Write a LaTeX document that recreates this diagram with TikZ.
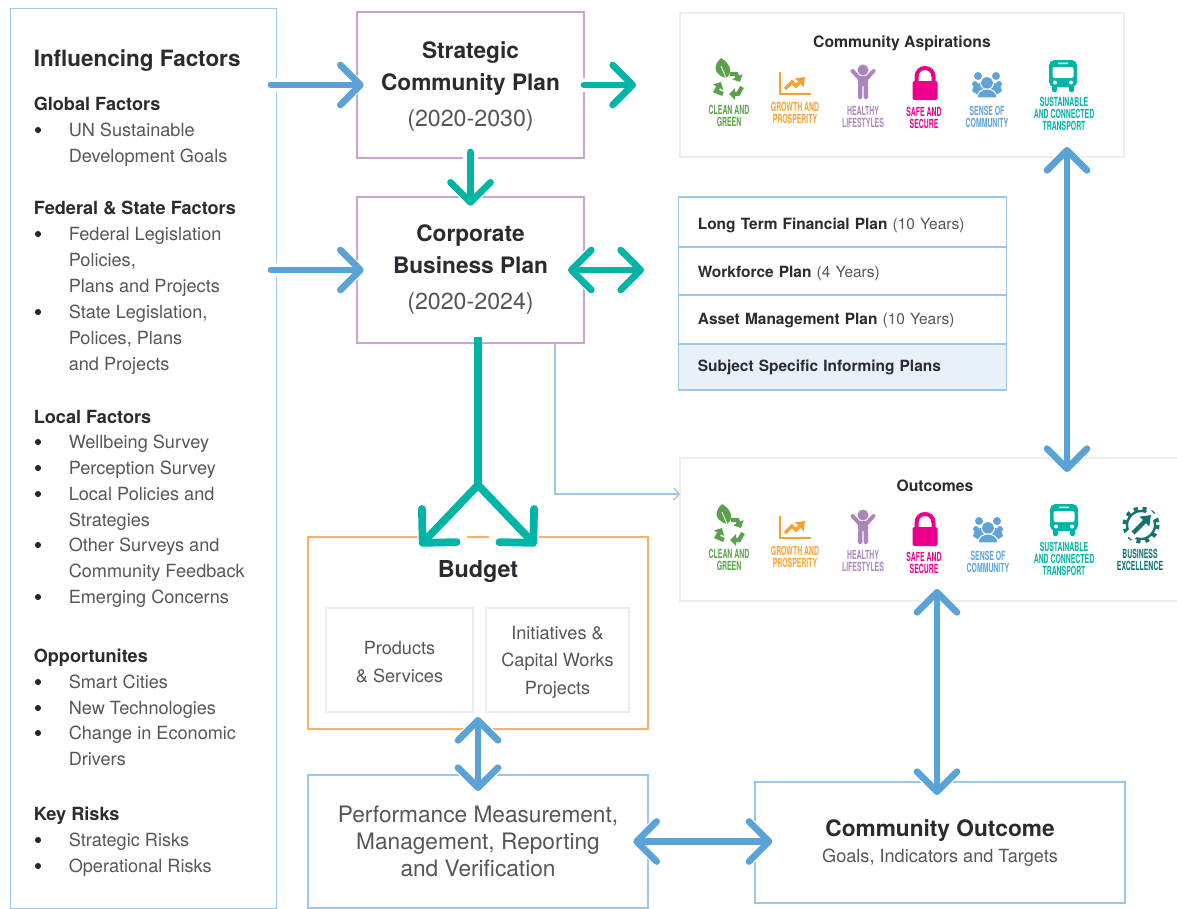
\documentclass[tikz,border=0pt]{standalone}
\usepackage{fontspec}
\setmainfont{TeX Gyre Heros}
\usetikzlibrary{arrows.meta}
\definecolor{linkblue}{HTML}{5BA2D6}
\definecolor{linkteal}{HTML}{00B4A6}
\definecolor{paleblue}{HTML}{9CC7E8}
\definecolor{palepurple}{HTML}{C8A4D4}
\definecolor{paleorange}{HTML}{F9B264}
\definecolor{palegrey}{HTML}{EDEDED}
\definecolor{softfill}{HTML}{E8F0F9}
\definecolor{inkdark}{HTML}{2A2A30}
\definecolor{inkbody}{HTML}{55555B}
\definecolor{markgreen}{HTML}{5CA04C}
\definecolor{markorange}{HTML}{F9A030}
\definecolor{markpurple}{HTML}{AE84BC}
\definecolor{markpink}{HTML}{EC008C}
\definecolor{markblue}{HTML}{5FA3D8}
\definecolor{markdeep}{HTML}{17716F}
\tikzset{
	framed/.style={draw=#1,line width=.9pt,outer sep=0pt,inner sep=0pt,align=center},
	planbox/.style={framed=palepurple,minimum width=170.25pt,minimum height=109.5pt,text=inkdark,font=\fontsize{17}{24}\selectfont},
	heading/.style={anchor=base west,inner sep=0pt,text=inkdark,font=\fontsize{13.6}{16}\selectfont\bfseries},
	entry/.style={anchor=base west,inner sep=0pt,text=inkbody,font=\fontsize{13.6}{16}\selectfont},
	dotmark/.style={circle,fill=black!85,inner sep=0pt,minimum size=4.6pt},
	planrow/.style={framed=paleblue,minimum width=245.5pt,text width=217pt,text depth=2.7pt,align=left,text=inkdark,font=\fontsize{11.6}{14}\selectfont},
	inner/.style={framed=palegrey,line width=1.2pt,minimum height=78pt,text=inkbody,font=\fontsize{13.6}{20.5}\selectfont},
	marktext/.style={text=#1,inner sep=0pt,align=center,xscale=.55,transform shape,font=\fontsize{9.4}{8.7}\selectfont\bfseries},
	bluelink/.style={linkblue,line width=5pt,line cap=round,preaction={draw=white,line width=11pt,line cap=round}},
	teallink/.style={linkteal,line width=5pt,line cap=round,preaction={draw=white,line width=11pt,line cap=round}},
	forklink/.style={linkteal,line width=5.8pt,line cap=round,preaction={draw=white,line width=12pt,line cap=round,shorten <=14pt}},
	barb/.tip={Straight Barb[round,length=15pt,width=30pt]},
	widebarb/.tip={Straight Barb[round,length=18pt,width=36pt]},
	leafmark/.pic={
		\fill[markgreen] (-2,0) .. controls (-16,-4) and (-14,-14) .. (-7,-20) .. controls (3,-14) and (5,-5) .. (-2,0);
		\draw[white,line width=.6pt] (-2,0) -- (-7,-12);
		\draw[markgreen,line width=3.2pt,-{Triangle[length=4.5pt,width=8.5pt]}] (2,-4) -- (8,-4) -- (12,4);
		\draw[markgreen,line width=3.2pt,-{Triangle[length=4.5pt,width=8.5pt]}] (14,9) -- (10,16) -- (1,16);
		\draw[markgreen,line width=3.2pt,-{Triangle[length=4.5pt,width=8.5pt]}] (-5,16) -- (-12,13) -- (-7,4);
	},
	chartmark/.pic={
		\draw[markorange,line width=1.3pt] (-15,-11) -- (-15,11) -- (16,11);
		\draw[markorange,line width=2.6pt,-{Triangle[length=6pt,width=9pt]}] (-10,6) -- (-3,-1) -- (1,3) -- (10,-6);
	},
	personmark/.pic={
		\fill[markpurple] (0,-12) circle (5.5);
		\draw[markpurple,line width=3pt,line cap=round] (-10.5,-11) -- (-4,-4) -- (4,-4) -- (10.5,-11);
		\fill[markpurple,rounded corners=1pt] (-5,-5) rectangle (5,4);
		\fill[markpurple,rounded corners=1pt] (-5,3) rectangle (-.7,17);
		\fill[markpurple,rounded corners=1pt] (.7,3) rectangle (5,17);
	},
	lockmark/.pic={
		\fill[markpink,rounded corners=1.5pt] (-12.5,-3) rectangle (12.5,16);
		\draw[markpink,line width=3pt] (-8.5,-2) -- (-8.5,-7) .. controls (-8.5,-19) and (8.5,-19) .. (8.5,-7) -- (8.5,-2);
	},
	crowdmark/.pic={
		\fill[markblue] (-9,-9) circle (4) (9,-9) circle (4) (-12,-1) circle (3) (12,-1) circle (3);
		\fill[markblue] (-15,6) .. controls (-15,-6) and (15,-6) .. (15,6) -- (9,10) -- (-9,10) -- cycle;
		\draw[white,line width=.8pt,fill=markblue] (0,-2) circle (6.5);
		\draw[white,line width=.8pt,fill=markblue] (-10,13) .. controls (-10,1) and (10,1) .. (10,13) -- cycle;
	},
	busmark/.pic={
		\fill[linkteal,rounded corners=4pt] (-14,-16) rectangle (14,11);
		\fill[linkteal,rounded corners=1pt] (-11,9) rectangle (-6,16);
		\fill[linkteal,rounded corners=1pt] (6,9) rectangle (11,16);
		\fill[white,rounded corners=1.5pt] (-10.5,-9) rectangle (10.5,2);
		\fill[white] (-5,-13.5) rectangle (5,-12) (-8,6.5) circle (2) (8,6.5) circle (2);
	},
	gearmark/.pic={
		\draw[markdeep,line width=1.8pt] (0,0) circle (14);
		\draw[markdeep,line width=3pt,dash pattern=on 3pt off 3.6pt] (0,0) circle (16.5);
		\draw[white,line width=8pt] (-12,12) -- (12,-12);
		\draw[markdeep,line width=3.2pt,-{Triangle[length=7pt,width=10pt]}] (-8,8) -- (10,-10);
	},
}

\begin{document}
\begin{tikzpicture}[x=.75pt,y=-.75pt]
	\useasboundingbox (0,0) rectangle (1177,908);
	% boxes
	\node[framed=paleblue,minimum width=200pt,minimum height=674.5pt] at (143.5,458.5) (factors) {};
	\node[planbox] at (470.5,85) (strategic)
		{\rule{0pt}{14.5pt}\textbf{Strategic}\\\textbf{Community Plan}\\[3pt]{\fontsize{17.4}{20}\selectfont\color{inkbody}(2020-2030)}};
	\node[planbox] at (470.5,270) (corporate)
		{\textbf{Corporate}\\\textbf{Business Plan}\\[3pt]{\fontsize{17.4}{20}\selectfont\color{inkbody}(2020-2024)}};
	\node[framed=palegrey,line width=1.4pt,minimum width=333pt,minimum height=108pt] at (902,85) (aspirations) {};
	\node[framed=palegrey,line width=1.4pt,minimum width=375pt,minimum height=107pt] at (930,529.5) (outcomes) {};
	\node[planrow,text height=14pt,minimum height=37.5pt] at (842.5,222) (financial)
		{\textbf{Long Term Financial Plan} {\color{inkbody}(10 Years)}};
	\node[planrow,text height=12.5pt,minimum height=36pt] at (842.5,271) (workforce)
		{\textbf{Workforce Plan} {\color{inkbody}(4 Years)}};
	\node[planrow,text height=10.2pt,minimum height=36.75pt] at (842.5,319.5) (asset)
		{\textbf{Asset Management Plan} {\color{inkbody}(10 Years)}};
	\node[planrow,text height=9.5pt,fill=softfill,minimum height=34.5pt] at (842.5,367) (subject)
		{\textbf{Subject Specific Informing Plans}};
	\node[framed=paleorange,minimum width=255pt,minimum height=144pt] at (478,633) (budget) {};
	\node[inner,minimum width=110pt] at (399.5,660) (products) {\rule{0pt}{13pt}Products\\\& Services};
	\node[inner,minimum width=107pt] at (557.5,660) (initiatives) {\rule{0pt}{13pt}Initiatives \&\\Capital Works\\Projects};
	\node[framed=paleblue,minimum width=255pt,minimum height=99.75pt,text=inkbody,font=\fontsize{17}{20}\selectfont] at (478,841.5) (performance) {Performance Measurement,\\Management, Reporting\\and Verification};
	\node[framed=paleblue,minimum width=277.5pt,minimum height=90.75pt] at (940,842.5) (community) {};
	% headings and lists
	\node[heading,font=\fontsize{16.85}{20}\selectfont\bfseries] at (33.5,66) (influencing) {Influencing Factors};
	\node[heading] at (33.5,110) (globalhead) {Global Factors};
	\node[heading] at (33.5,214) (federalhead) {Federal \& State Factors};
	\node[heading] at (33.5,423) (localhead) {Local Factors};
	\node[heading] at (33.5,662) (opportunehead) {Opportunites};
	\node[heading] at (33.5,820) (riskhead) {Key Risks};
	\foreach \yy/\txt [count=\nn] in {136/UN Sustainable,162/Development Goals,240/Federal Legislation,266/{Policies,},292/Plans and Projects,318/{State Legislation,},344/{Polices, Plans},370/and Projects,448/Wellbeing Survey,474/Perception Survey,500/Local Policies and,526/Strategies,551/Other Surveys and,577/Community Feedback,603/Emerging Concerns,688/Smart Cities,714/New Technologies,739/Change in Economic,765/Drivers,846/Strategic Risks,872/Operational Risks}
		\node[entry] at (68.5,\yy) (item\nn) {\txt};
	\foreach \yy [count=\nn] in {130,234,312,442,468,494,545,597,682,708,733,840,866}
		\node[dotmark] at (38,\yy) (dot\nn) {};
	% titles
	\node[text=inkdark,inner sep=0pt,font=\fontsize{11.8}{14}\selectfont\bfseries] at (902,43) (aspirationstitle) {Community Aspirations};
	\node[text=inkdark,inner sep=0pt,font=\fontsize{11.8}{14}\selectfont\bfseries] at (935,486) (outcomestitle) {Outcomes};
	\node[text=inkdark,inner sep=0pt,font=\fontsize{17.5}{20}\selectfont\bfseries] at (478,572) (budgettitle) {Budget};
	\node[text=inkdark,inner sep=0pt,font=\fontsize{17}{20}\selectfont\bfseries] at (940,831) (communitytitle) {Community Outcome};
	\node[text=inkbody,inner sep=0pt,font=\fontsize{13.6}{16}\selectfont] at (940,858) (communitytext) {Goals, Indicators and Targets};
	% upper marks
	\pic at (728,78) {leafmark};
	\pic at (795,83) {chartmark};
	\pic at (863,82) {personmark};
	\pic at (925,84) {lockmark};
	\pic at (987,85) {crowdmark};
	\pic at (1063,76) {busmark};
	\node[marktext=markgreen] at (729,116) (cleantop) {CLEAN AND\\GREEN};
	\node[marktext=markorange] at (795,113) (growthtop) {GROWTH AND\\PROSPERITY};
	\node[marktext=markpurple] at (863,117) (healthytop) {HEALTHY\\LIFESTYLES};
	\node[marktext=markpink] at (924,118) (safetop) {SAFE AND\\SECURE};
	\node[marktext=markblue] at (987,117) (sensetop) {SENSE OF\\COMMUNITY};
	\node[marktext=linkteal] at (1064,114) (transporttop) {SUSTAINABLE\\AND CONNECTED\\TRANSPORT};
	% lower marks
	\pic at (729,524) {leafmark};
	\pic at (795,527) {chartmark};
	\pic at (863,527) {personmark};
	\pic at (925,530) {lockmark};
	\pic at (988,530) {crowdmark};
	\pic at (1064,520) {busmark};
	\pic at (1141,525) {gearmark};
	\node[marktext=markgreen] at (729,560) (cleanlow) {CLEAN AND\\GREEN};
	\node[marktext=markorange] at (795,557) (growthlow) {GROWTH AND\\PROSPERITY};
	\node[marktext=markpurple] at (863,561) (healthylow) {HEALTHY\\LIFESTYLES};
	\node[marktext=markpink] at (924,563) (safelow) {SAFE AND\\SECURE};
	\node[marktext=markblue] at (988,562) (senselow) {SENSE OF\\COMMUNITY};
	\node[marktext=linkteal] at (1064,559) (transportlow) {SUSTAINABLE\\AND CONNECTED\\TRANSPORT};
	\node[marktext=markdeep] at (1140,560) (businesslow) {BUSINESS\\EXCELLENCE};
	% free ends
	\coordinate (fork) at (478,485);
	\coordinate (aspirationsend) at (1067,147);
	\coordinate (outcomesend) at (1067,472);
	\coordinate (outcomesfoot) at (937,589);
	\coordinate (communityhead) at (937,795);
	% links
	\draw[paleblue,line width=1pt,-{Straight Barb[length=4pt,width=9pt]}] ([xshift=63.4pt]corporate.south) |- ([yshift=26.6pt]outcomes.west);
	\draw[bluelink,-barb] ([xshift=-4.5pt]factors.east |- strategic.west) -- ([xshift=5pt]strategic.west);
	\draw[bluelink,-barb] ([xshift=-4.5pt]factors.east |- corporate.west) -- ([xshift=5pt]corporate.west);
	\draw[teallink,-barb] (strategic.east) -- ([xshift=-33pt]aspirations.west);
	\draw[teallink,-barb] ([yshift=4.5pt]strategic.south) -- ([yshift=-6.5pt]corporate.north);
	\draw[teallink,barb-barb] ([xshift=-12pt]corporate.east) -- ([xshift=45pt]corporate.east);
	\draw[forklink,line cap=butt] ([xshift=5.6pt,yshift=4.5pt]corporate.south) -- (fork);
	\draw[forklink,-widebarb] (fork) -- ([xshift=-43.5pt,yshift=-6.5pt]budget.north);
	\draw[forklink,-widebarb] (fork) -- ([xshift=43.5pt,yshift=-6.5pt]budget.north);
	\draw[bluelink,barb-barb] ([yshift=9pt]budget.south) -- ([yshift=-12pt]performance.north);
	\draw[bluelink,barb-barb] ([xshift=-11pt]performance.east) -- ([xshift=13pt]performance.east -| community.west);
	\draw[bluelink,barb-barb] (aspirationsend) -- (outcomesend);
	\draw[bluelink,barb-barb] (outcomesfoot) -- (communityhead);
\end{tikzpicture}
\end{document}
